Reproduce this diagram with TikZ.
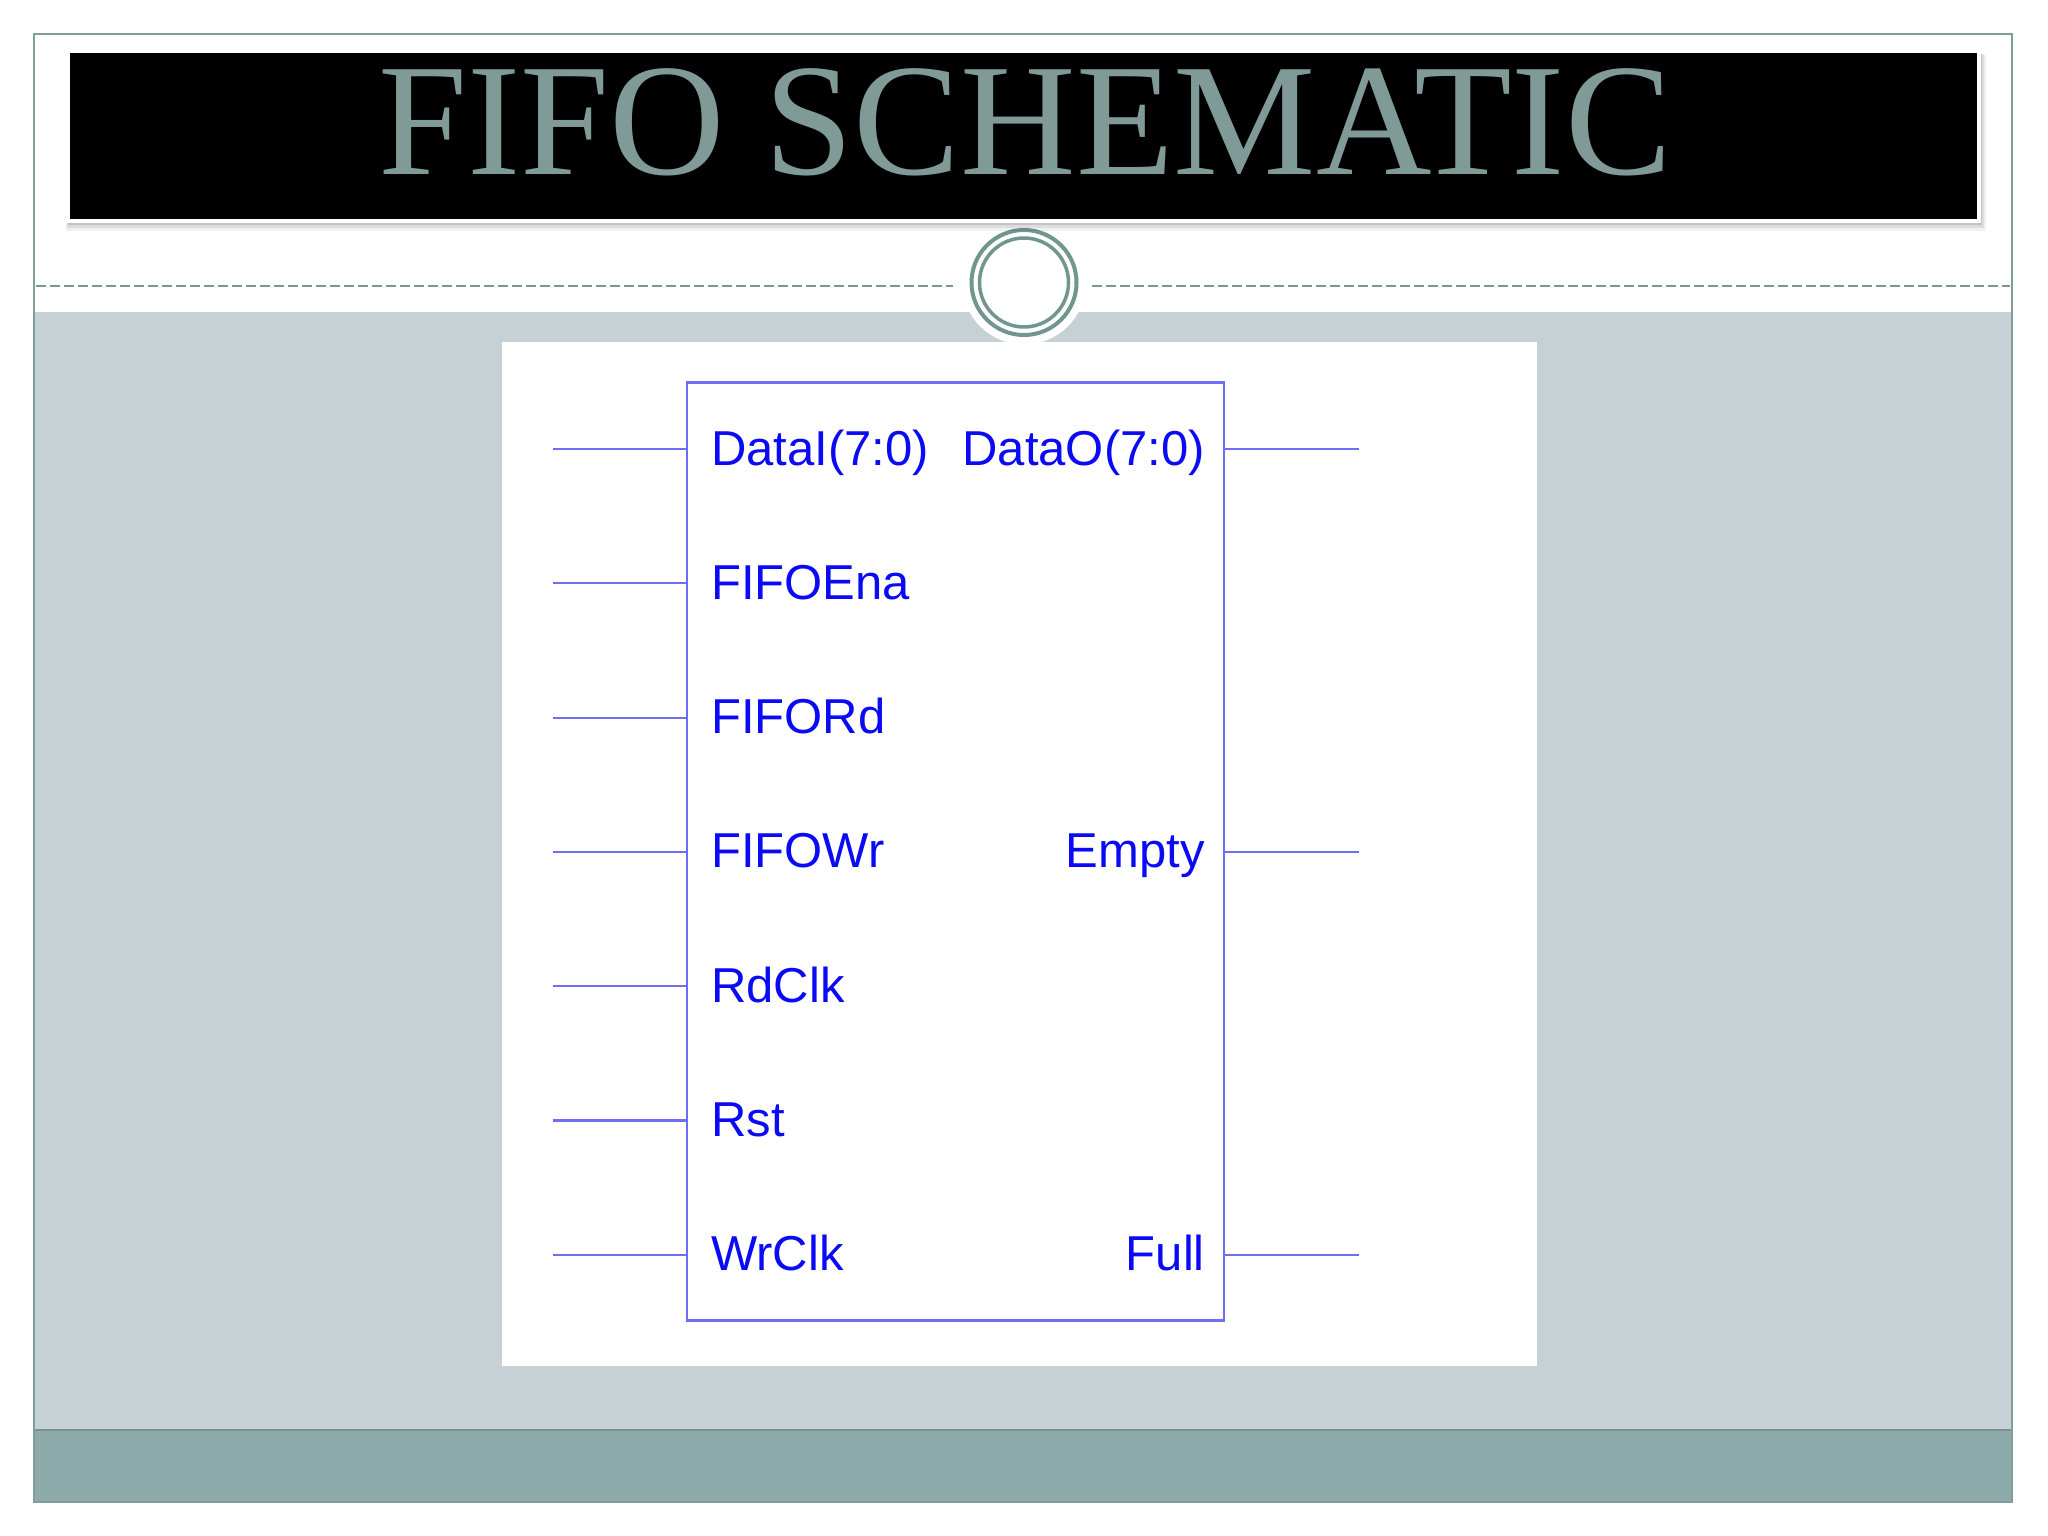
\documentclass[tikz,border=0pt]{standalone}
\usepackage{fontspec}
\setmainfont{Liberation Serif}
\newfontfamily\pinfont{Liberation Sans}
\definecolor{bandgray}{RGB}{197,209,212}
\definecolor{darkband}{RGB}{141,171,171}
\definecolor{framec}{RGB}{127,158,156}
\definecolor{dashc}{RGB}{125,150,148}
\definecolor{ringc}{RGB}{112,150,142}
\definecolor{titlec}{RGB}{127,154,151}
\definecolor{wirec}{RGB}{110,110,245}
\definecolor{labelc}{RGB}{10,10,245}
\tikzset{
  wire/.style={wirec, line width=2.2pt},
  lbl/.style={labelc, inner sep=0pt, font=\pinfont\fontsize{49}{58}\selectfont},
  lbll/.style={lbl, anchor=base west},
  lblr/.style={lbl, anchor=base east},
  block/.style={draw=wirec, line width=2.5pt, fill=white, minimum width=537pt, minimum height=938pt, inner sep=0pt}
}
\begin{document}
\begin{tikzpicture}[x=1pt,y=-1pt]
\useasboundingbox (0,0) rectangle (2048,1536);
\fill[white] (0,0) rectangle (2048,1536);
% bands
\fill[bandgray] (35,312) rectangle (2011,1430);
\fill[darkband] (35,1430) rectangle (2011,1502);
\draw[darkband!85!black, line width=1.5pt] (35,1430) -- (2011,1430);
% frame
\draw[framec, line width=2.5pt] (34,34) rectangle (2012,1502);
% dashed rule
\draw[dashc, line width=2pt, dash pattern=on 10pt off 4pt] (36,285.5) -- (953,285.5);
\draw[dashc, line width=2pt, dash pattern=on 10pt off 4pt] (1092,285.5) -- (2010,285.5);
% circle ornament
\fill[white] (1024,282.5) circle (62pt);
\draw[ringc, line width=4pt] (1024,282.5) circle (52.5pt);
\draw[ringc, line width=3.5pt] (1024,282.5) circle (44.5pt);
% title bar shadow
\fill[black, opacity=0.06] (66,55) rectangle (1986,231);
\fill[black, opacity=0.08] (67,54) rectangle (1984,228);
\fill[black, opacity=0.12] (68,53) rectangle (1982,225);
% title bar
\fill[white] (66,51) rectangle (1981,223);
\node[fill=black, minimum width=1907pt, minimum height=166pt, inner sep=0pt, anchor=north west] (bar) at (70,53) {};
\node[titlec, anchor=base, inner sep=0pt, font=\fontsize{160}{180}\selectfont] (title) at (1025,175) {FIFO SCHEMATIC};
% white panel
\fill[white] (502,342) rectangle (1537,1366);
% block
\node[block] (blk) at (955.5,851.5) {};
% pins
\foreach \i/\y in {1/449,2/583.3,3/717.6,4/851.9,5/986.2,6/1120.5,7/1254.8}{
  \coordinate (in\i) at (553,\y);
  \draw[wire] (in\i) -- (blk.west |- in\i);
}
\foreach \i/\y in {1/449,4/851.9,7/1254.8}{
  \coordinate (out\i) at (1359,\y);
  \draw[wire] (blk.east |- out\i) -- (out\i);
}
% labels
\node[lbll] (l1) at (711,465) {DataI(7:0)};
\node[lbll] (l2) at (711,599.3) {FIFOEna};
\node[lbll] (l3) at (711,733.6) {FIFORd};
\node[lbll] (l4) at (711,867.9) {FIFOWr};
\node[lbll] (l5) at (711,1002.2) {RdClk};
\node[lbll] (l6) at (711,1136.5) {Rst};
\node[lbll] (l7) at (711,1270.8) {WrClk};
\node[lblr] (r1) at (1205,465) {DataO(7:0)};
\node[lblr] (r4) at (1205,867.9) {Empty};
\node[lblr] (r7) at (1205,1270.8) {Full};
\end{tikzpicture}
\end{document}
